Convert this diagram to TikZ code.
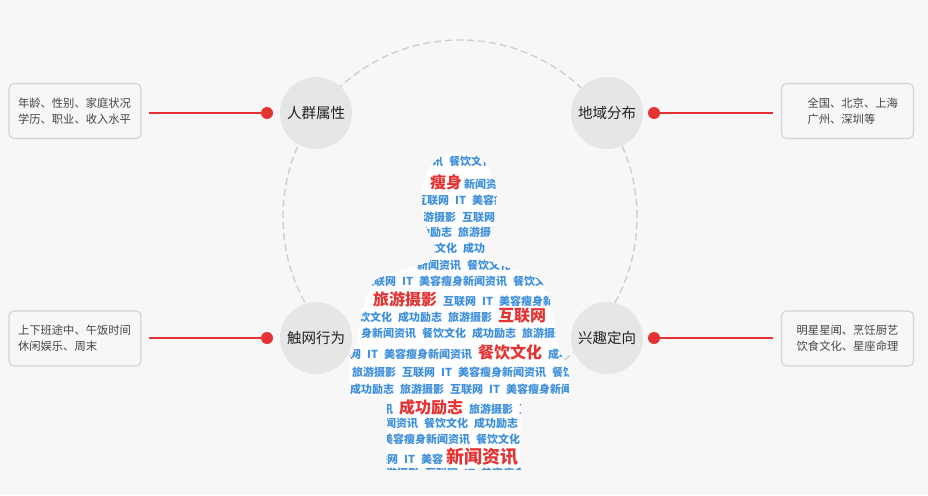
\documentclass[tikz,border=0pt]{standalone}
\usepackage{fontspec}
\setmainfont{Noto Sans CJK SC}
\definecolor{bg}{HTML}{F7F7F7}
\definecolor{circfill}{HTML}{E6E6E6}
\definecolor{boxborder}{HTML}{D4D4D4}
\definecolor{ringcol}{HTML}{CFCFCF}
\definecolor{cloudred}{HTML}{E53232}
\definecolor{cloudblue}{HTML}{3D8FDD}
\definecolor{labeltext}{HTML}{222222}
\definecolor{boxtext}{HTML}{444444}
\newcommand\cB[1]{{\color{cloudblue}\fontsize{11}{13}\selectfont\bfseries\spaceskip=6pt\relax #1}}
\newcommand\cR[1]{{\color{cloudred}\fontsize{16}{18}\selectfont\bfseries #1}}
\newcommand\cRb[1]{{\color{cloudred}\fontsize{18}{20}\selectfont\bfseries #1}}
\newcommand\gp{\hspace{6pt}}
\begin{document}
\begin{tikzpicture}[x=1pt,y=-1pt,
  nodecirc/.style={circle,fill=circfill,minimum size=72pt,inner sep=0pt,font=\fontsize{14.5}{16}\selectfont,text=labeltext},
  dotst/.style={circle,fill=cloudred,minimum size=12pt,inner sep=0pt},
  infobox/.style={draw=boxborder,line width=1.2pt,rounded corners=5pt,fill=bg,minimum width=132pt,minimum height=55pt,inner sep=0pt,font=\fontsize{11.3}{16}\selectfont,text=boxtext},
  redline/.style={draw=cloudred,line width=1.6pt},
  ring/.style={draw=ringcol,line width=1.4pt,dash pattern=on 7pt off 4pt},
  row/.style={anchor=base west,inner sep=0pt}
]
\fill[bg] (0,0) rectangle (928,495);
\useasboundingbox (0,0) rectangle (928,495);
% dashed ring
\draw[ring] (460,217) circle[radius=177pt];
% silhouette
\fill[white] (434,258) -- (434,242) .. controls (424,230) and (422,212) .. (422,196)
  .. controls (422,168) and (438,152) .. (459,152)
  .. controls (480,152) and (496,168) .. (496,196)
  .. controls (496,212) and (494,230) .. (484,242) -- (484,258)
  .. controls (500,268) and (525,270) .. (540,280)
  .. controls (550,292) and (553,315) .. (556,340)
  .. controls (558,355) and (566,360) .. (568,372) -- (568,396)
  -- (521,396) -- (520,469) -- (386,469) -- (387,396) -- (349,396) -- (349,368)
  .. controls (350,356) and (355,350) .. (358,335)
  .. controls (362,315) and (366,290) .. (376,279)
  .. controls (395,270) and (418,268) .. (434,258) -- cycle;
\begin{scope}
\clip (434,258) -- (434,242) .. controls (424,230) and (422,212) .. (422,196)
  .. controls (422,168) and (438,152) .. (459,152)
  .. controls (480,152) and (496,168) .. (496,196)
  .. controls (496,212) and (494,230) .. (484,242) -- (484,258)
  .. controls (500,268) and (525,270) .. (540,280)
  .. controls (550,292) and (553,315) .. (556,340)
  .. controls (558,355) and (566,360) .. (568,372) -- (568,396)
  -- (521,396) -- (520,469) -- (386,469) -- (387,396) -- (349,396) -- (349,368)
  .. controls (350,356) and (355,350) .. (358,335)
  .. controls (362,315) and (366,290) .. (376,279)
  .. controls (395,270) and (418,268) .. (434,258) -- cycle;
\node[row] (r1) at (421,165) {\cB{资讯 餐饮文化 成功励志}};
\node[row] (r2) at (430,188) {\cR{瘦身}\hspace{2pt}\cB{新闻资讯 餐饮文化}};
\node[row] (r3) at (416,204) {\cB{互联网 IT 美容瘦身新闻}};
\node[row] (r4) at (412,221) {\cB{旅游摄影 互联网 IT}};
\node[row] (r5) at (408,236) {\cB{成功励志 旅游摄影}};
\node[row] (r6) at (413,252) {\cB{餐饮文化 成功励志}};
\node[row] (r7) at (417,269) {\cB{新闻资讯 餐饮文化}};
\node[row] (r8) at (363,285) {\cB{互联网 IT 美容瘦身新闻资讯 餐饮文化}};
\node[row] (r9) at (373,305) {\cR{旅游摄影}\gp\cB{互联网 IT 美容瘦身新闻}};
\node[row] (r10) at (359,321) {\cB{饮文化 成功励志 旅游摄影}\gp\cR{互联网}};
\node[row] (r11) at (361,337) {\cB{身新闻资讯 餐饮文化 成功励志 旅游摄影}};
\node[row] (r12) at (350,358) {\cB{网 IT 美容瘦身新闻资讯}\gp\cR{餐饮文化}\gp\cB{成功励志}};
\node[row] (r13) at (352,376) {\cB{旅游摄影 互联网 IT 美容瘦身新闻资讯 餐饮文化}};
\node[row] (r14) at (350,393) {\cB{成功励志 旅游摄影 互联网 IT 美容瘦身新闻资讯}};
\node[row] (r15) at (371,413) {\cB{资讯}\gp\cR{成功励志}\gp\cB{旅游摄影 互联网}};
\node[row] (r16) at (374,427) {\cB{新闻资讯 餐饮文化 成功励志}};
\node[row] (r17) at (382,443) {\cB{美容瘦身新闻资讯 餐饮文化}};
\node[row] (r18) at (365,463) {\cB{互联网 IT 美容}\hspace{3pt}\cRb{新闻资讯}};
\node[row] (r19) at (375,477) {\cB{旅游摄影 互联网 IT 美容瘦身}};
\end{scope}
% info boxes
\node[infobox,text width=114pt,align=left] (b1) at (75,111) {年龄、性别、家庭状况\\学历、职业、收入水平};
\node[infobox,text width=100pt,align=left] (b2) at (847.5,111) {\hspace*{10pt}全国、北京、上海\\\hspace*{10pt}广州、深圳等};
\node[infobox,text width=114pt,align=left] (b3) at (75,338.5) {上下班途中、午饭时间\\休闲娱乐、周末};
\node[infobox,text width=114pt,align=center] (b4) at (847.5,338.5) {明星星闻、烹饪厨艺\\饮食文化、星座命理};
% category circles
\node[nodecirc] (n1) at (316,113) {人群属性};
\node[nodecirc] (n2) at (607,113) {地域分布};
\node[nodecirc] (n3) at (316,338) {触网行为};
\node[nodecirc] (n4) at (607,338) {兴趣定向};
% dots and connectors
\coordinate (c1) at (267,113);
\coordinate (c2) at (654,113);
\coordinate (c3) at (267,338);
\coordinate (c4) at (654,338);
\draw[redline,shorten <=7pt] (c1 -| b1.east) -- (c1);
\draw[redline,shorten >=8pt] (c2) -- (c2 -| b2.west);
\draw[redline,shorten <=7pt] (c3 -| b3.east) -- (c3);
\draw[redline,shorten >=8pt] (c4) -- (c4 -| b4.west);
\node[dotst] (d1) at (c1) {};
\node[dotst] (d2) at (c2) {};
\node[dotst] (d3) at (c3) {};
\node[dotst] (d4) at (c4) {};
\end{tikzpicture}
\end{document}
